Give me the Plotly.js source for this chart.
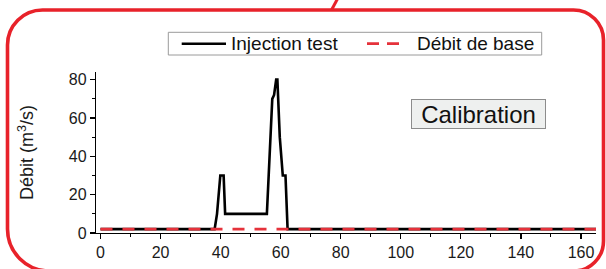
<!DOCTYPE html>
<html>
<head>
<meta charset="utf-8">
<script src="https://cdn.plot.ly/plotly-3.0.1.min.js"></script>
<style>
html,body{margin:0;padding:0;background:#fff;}
#chart{width:606px;height:269px;}
</style>
</head>
<body>
<div id="chart"></div>
<script>
// Data
const injTime = [0, 38, 38.8, 39.9, 41, 41.5, 55.4, 56.5, 57.2, 57.8, 58.5, 58.9, 59.7, 60.7, 61.6, 62.3, 165];
const injFlow = [2, 2, 10, 30, 30, 10, 10, 50, 70, 72, 80, 80, 50, 30, 30, 2, 2];
const baseTime = [0, 165];
const baseFlow = [2, 2];
const seriesNames = ["Injection test", "Débit de base"];
const xTicks = [0, 20, 40, 60, 80, 100, 120, 140, 160];
const yTicks = [0, 20, 40, 60, 80];
const panelLabel = "Calibration";

// Layout geometry (pixels)
const W = 606, H = 269;
const M = {l: 96, r: 10, t: 72, b: 36};
const PW = W - M.l - M.r, PH = H - M.t - M.b;
const px = x => (x - M.l) / PW;
const py = y => (H - M.b - y) / PH;
const P = (x, y) => px(x) + ',' + py(y);

const FONT = 'Liberation Sans, Arial, Helvetica, sans-serif';
const RED = '#e5323b';

// rounded frame path
function framePath(L, R, T, B, rTL, rTR, rBR, rBL) {
  const k = 0.5523;
  return 'M' + P(L + rTL, T) +
    ' L' + P(R - rTR, T) +
    ' C' + P(R - rTR + k * rTR, T) + ' ' + P(R, T + rTR - k * rTR) + ' ' + P(R, T + rTR) +
    ' L' + P(R, B - rBR) +
    ' C' + P(R, B - rBR + k * rBR) + ' ' + P(R - rBR + k * rBR, B) + ' ' + P(R - rBR, B) +
    ' L' + P(L + rBL, B) +
    ' C' + P(L + rBL - k * rBL, B) + ' ' + P(L, B - rBL + k * rBL) + ' ' + P(L, B - rBL) +
    ' L' + P(L, T + rTL) +
    ' C' + P(L, T + rTL - k * rTL) + ' ' + P(L + rTL - k * rTL, T) + ' ' + P(L + rTL, T) + ' Z';
}

const traces = [
  {x: injTime, y: injFlow, name: seriesNames[0], type: 'scatter', mode: 'lines',
   line: {color: '#000', width: 2.6}, showlegend: false, hoverinfo: 'skip'},
  {x: baseTime, y: baseFlow, name: seriesNames[1], type: 'scatter', mode: 'lines',
   line: {color: RED, width: 2.8, dash: '12px,10px'}, showlegend: false, hoverinfo: 'skip'}
];

const legY = 43.7;
const layout = {
  width: W, height: H,
  margin: M,
  paper_bgcolor: '#fff', plot_bgcolor: '#fff',
  font: {family: FONT, color: '#1a1a1a', size: 16},
  showlegend: false,
  xaxis: {
    range: [-1.5, 165], tickvals: xTicks, ticktext: xTicks.map(String),
    showgrid: false, zeroline: false, showline: true, linecolor: '#000', linewidth: 1.2,
    ticks: 'outside', ticklen: 5, tickwidth: 1.2, tickcolor: '#000',
    tickfont: {size: 16, family: FONT, color: '#1a1a1a'}, ticklabelstandoff: 0,
    minor: {dtick: 10, tick0: 0, ticks: 'outside', ticklen: 3, tickcolor: '#000', tickwidth: 1, showgrid: false},
    automargin: false, fixedrange: true
  },
  yaxis: {
    range: [0, 84], tickvals: yTicks, ticktext: yTicks.map(String),
    showgrid: false, zeroline: false, showline: true, linecolor: '#000', linewidth: 1.2,
    ticks: 'outside', ticklen: 5, tickwidth: 1.2, tickcolor: '#000',
    tickfont: {size: 16, family: FONT, color: '#1a1a1a'},
    minor: {dtick: 10, tick0: 0, ticks: 'outside', ticklen: 3, tickcolor: '#000', tickwidth: 1, showgrid: false},
    title: {text: 'Débit (m<sup>3</sup>/s)', font: {size: 18, family: FONT, color: '#1a1a1a'}, standoff: 30},
    automargin: false, fixedrange: true
  },
  shapes: [
    // outer rounded red frame
    {type: 'path', xref: 'paper', yref: 'paper', path: framePath(7.5, 603.5, 10, 271, 35, 30, 30, 42),
     line: {color: '#e8222a', width: 3.6}, fillcolor: 'rgba(0,0,0,0)', layer: 'above'},
    {type: 'line', xref: 'paper', yref: 'paper', x0: px(331.5), y0: py(10), x1: px(338.5), y1: py(-3),
     line: {color: '#e8222a', width: 3}},
    // legend box
    {type: 'rect', xref: 'paper', yref: 'paper', x0: px(168.3), y0: py(32.3), x1: px(541.7), y1: py(55),
     line: {color: '#9a9a9a', width: 1}, fillcolor: '#fff'},
    {type: 'line', xref: 'paper', yref: 'paper', x0: px(181.7), y0: py(legY), x1: px(226), y1: py(legY),
     line: {color: '#000', width: 2.6}},
    {type: 'line', xref: 'paper', yref: 'paper', x0: px(367), y0: py(legY), x1: px(399), y1: py(legY),
     line: {color: RED, width: 2.8, dash: '12px,8px'}}
  ],
  annotations: [
    {xref: 'paper', yref: 'paper', x: px(229.3), y: py(legY), xanchor: 'left', yanchor: 'middle',
     text: seriesNames[0], showarrow: false, font: {size: 19, family: FONT, color: '#111'}},
    {xref: 'paper', yref: 'paper', x: px(414.5), y: py(legY), xanchor: 'left', yanchor: 'middle',
     text: seriesNames[1], showarrow: false, font: {size: 19, family: FONT, color: '#111'}},
    {xref: 'paper', yref: 'paper', x: px(478.5), y: py(114.3), xanchor: 'center', yanchor: 'middle',
     text: panelLabel, showarrow: false, font: {size: 24, family: FONT, color: '#111'},
     bgcolor: '#eef0ef', bordercolor: '#8c8c8c', borderwidth: 1, borderpad: 0, width: 133, height: 28}
  ]
};

Plotly.newPlot('chart', traces, layout, {staticPlot: true, displayModeBar: false});
</script>
</body>
</html>
